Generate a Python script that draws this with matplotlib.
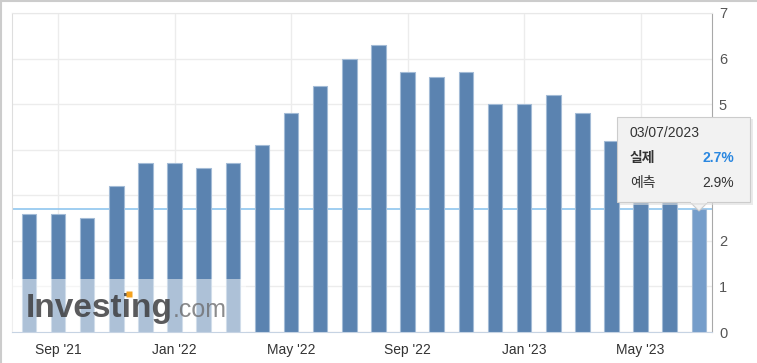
import pandas as pd
import matplotlib
matplotlib.use("Agg")
import matplotlib.pyplot as plt
from matplotlib.patches import Rectangle, Polygon

# release months (one bar per monthly CPI release)
months = pd.date_range("2021-08-01", periods=24, freq="MS")
cpi_yoy = [2.6, 2.6, 2.5, 3.2, 3.7, 3.7, 3.6, 3.7, 4.1, 4.8, 5.4, 6.0,
           6.3, 5.7, 5.6, 5.7, 5.0, 5.0, 5.2, 4.8, 4.2, 3.7, 3.3, 2.7]
tick_months = [9, 1, 5]
yticks = [0, 1, 2, 3, 4, 5, 6, 7]
hidden_yticks = [3, 4]  # covered by the tooltip

latest_date = "03/07/2023"
actual = 2.7
forecast = 2.9

bar_color = "#5b83b0"
last_color = "#759dca"
font = ["Liberation Sans", "Noto Sans CJK KR", "DejaVu Sans"]

fig = plt.figure(figsize=(7.57, 3.63), dpi=100)
ax = fig.add_axes([12 / 757, 31 / 363, 700 / 757, 319 / 363])

x = list(range(len(cpi_yoy)))
colors = [bar_color] * (len(cpi_yoy) - 1) + [last_color]
ax.bar(x, cpi_yoy, width=0.5, color=colors, edgecolor="#a3bbd6", linewidth=0.8, zorder=3)

# reference line at the latest actual value
ax.axhline(actual, color="#8fc6ef", lw=1.2, zorder=2)

ax.set_xlim(-0.58, 23.45)
ax.set_ylim(0, 7)

ticks = [i for i, m in enumerate(months) if m.month in tick_months]
ax.set_xticks(ticks)
ax.set_xticklabels([months[i].strftime("%b '%y") for i in ticks], fontsize=10,
                   color="#333333", family=font)
ax.set_yticks(yticks)
ax.set_yticklabels(["" if v in hidden_yticks else str(v) for v in yticks],
                   fontsize=10.5, color="#555555", family=font)
ax.yaxis.tick_right()
ax.tick_params(axis="y", length=0, pad=5)
ax.tick_params(axis="x", length=0, pad=8)
ax.grid(True, color="#ececec", lw=1, zorder=0)
ax.set_axisbelow(True)

ax.spines["left"].set_color("#dedede")
ax.spines["top"].set_color("#e8e8e8")
ax.spines["bottom"].set_color("#c6d3e3")
ax.spines["right"].set_color("#a8a8a8")

# watermark
ax.add_patch(Rectangle((-0.58, 0), 8.05, 1.17, color="white", alpha=0.5, lw=0, zorder=4))
ax.text(-0.1, 0.33, "Investing", fontsize=24, fontweight="bold", color="#3e3e40",
        alpha=0.85, family=font, zorder=5)
ax.text(4.95, 0.33, ".com", fontsize=18, color="#6e6e70", alpha=0.8, family=font, zorder=5)
ax.plot([3.42], [0.83], marker="s", ms=5, color="#f5a21e", mec="none", zorder=6)

# tooltip
fig.patches.append(Polygon([[690 / 757, 1 - 202 / 363], [708 / 757, 1 - 202 / 363],
                            [699 / 757, 1 - 211 / 363]], closed=True,
                           transform=fig.transFigure, facecolor="#f2f2f2",
                           edgecolor="#cccccc", lw=0.8, zorder=9))
fig.patches.append(Rectangle((620 / 757, 1 - 205 / 363), 133 / 757, 86 / 363,
                             transform=fig.transFigure, facecolor="#dddddd",
                             edgecolor="none", alpha=0.6, zorder=9))
fig.patches.append(Rectangle((617 / 757, 1 - 202 / 363), 133 / 757, 85 / 363,
                             transform=fig.transFigure, facecolor="#f2f2f2",
                             edgecolor="#cccccc", lw=0.8, zorder=10))
fig.patches.append(Rectangle((691 / 757, 1 - 203.5 / 363), 16 / 757, 3 / 363,
                             transform=fig.transFigure, facecolor="#f2f2f2",
                             edgecolor="none", zorder=11))
fig.text(630 / 757, 1 - 133 / 363, latest_date, fontsize=10, color="#333333",
         va="center", family=font, zorder=12)
fig.text(630 / 757, 1 - 158 / 363, "실제", fontsize=10, fontweight="bold", color="#333333",
         va="center", family=font, zorder=12)
fig.text(734 / 757, 1 - 158 / 363, f"{actual}%", fontsize=10, fontweight="bold",
         color="#2a87e0", va="center", ha="right", family=font, zorder=12)
fig.text(630 / 757, 1 - 183 / 363, "예측", fontsize=10, color="#333333",
         va="center", family=font, zorder=12)
fig.text(734 / 757, 1 - 183 / 363, f"{forecast}%", fontsize=10, color="#333333",
         va="center", ha="right", family=font, zorder=12)

# outer frame
fig.add_artist(plt.Line2D([0.5 / 757, 0.5 / 757], [0, 1], color="#cccccc", lw=1.5))
fig.add_artist(plt.Line2D([0, 1], [1 - 0.5 / 363, 1 - 0.5 / 363], color="#cccccc", lw=1.5))

fig.savefig("out.png", dpi=100)
